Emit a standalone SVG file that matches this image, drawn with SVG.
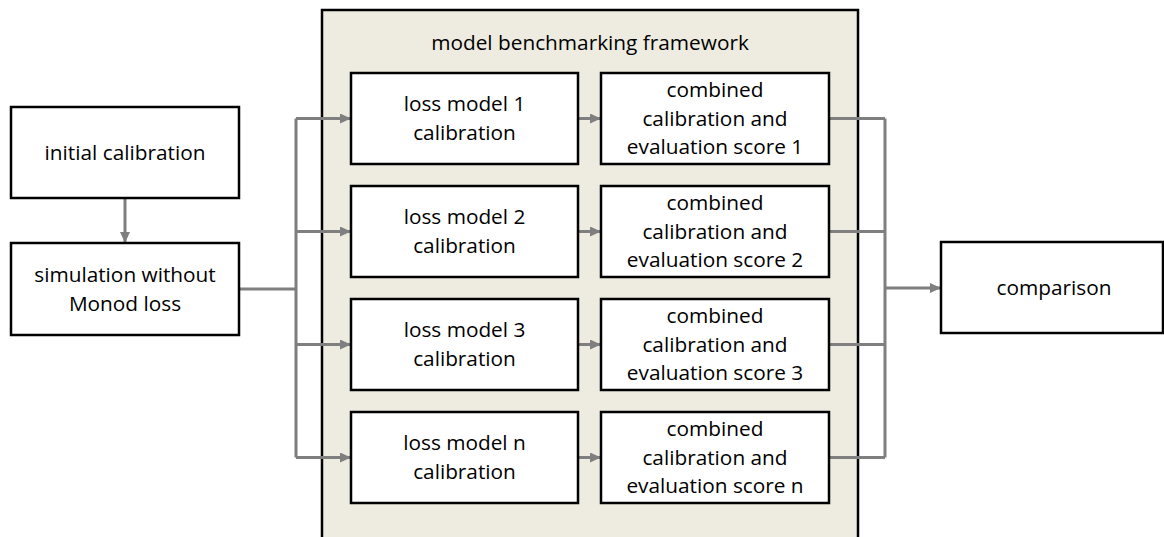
<svg xmlns="http://www.w3.org/2000/svg" width="1164" height="537" viewBox="0 0 1164 537">
  <style>
    .box { fill: #ffffff; stroke: #000000; stroke-width: 2.5; }
    .frame { fill: #EEECE1; stroke: #000000; stroke-width: 2.5; }
    .lbl { font-family: "Open Sans", "Liberation Sans", sans-serif; font-size: 20.8px; fill: #000000; text-anchor: middle; }
    .wire { fill: none; stroke: #7F7F7F; stroke-width: 3; }
    .arrow { fill: none; stroke: #7F7F7F; stroke-width: 3; marker-end: url(#head); }
  </style>
  <defs>
    <marker id="head" markerUnits="userSpaceOnUse" markerWidth="11" markerHeight="10" refX="11" refY="5" orient="auto">
      <path d="M0,0 L11,5 L0,10 Z" fill="#7F7F7F"/>
    </marker>
  </defs>

  <rect width="1164" height="537" fill="#ffffff"/>

  <!-- benchmarking framework container -->
  <g id="framework">
    <rect class="frame" x="322" y="10" width="536" height="540"/>
    <text class="lbl" x="590" y="50">model benchmarking framework</text>
  </g>

  <!-- connectors -->
  <g id="connectors">
    <line class="arrow" x1="125" y1="198" x2="125" y2="243"/>
    <polyline class="wire" points="239,289 296,289"/>
    <line class="wire" x1="296" y1="118.5" x2="296" y2="457.5"/>
    <line class="arrow" x1="296" y1="118.5" x2="351" y2="118.5"/>
    <line class="arrow" x1="296" y1="231.5" x2="351" y2="231.5"/>
    <line class="arrow" x1="296" y1="344.5" x2="351" y2="344.5"/>
    <line class="arrow" x1="296" y1="457.5" x2="351" y2="457.5"/>
    <line class="arrow" x1="578" y1="118.5" x2="601" y2="118.5"/>
    <line class="arrow" x1="578" y1="231.5" x2="601" y2="231.5"/>
    <line class="arrow" x1="578" y1="344.5" x2="601" y2="344.5"/>
    <line class="arrow" x1="578" y1="457.5" x2="601" y2="457.5"/>
    <line class="wire" x1="829" y1="118.5" x2="885" y2="118.5"/>
    <line class="wire" x1="829" y1="231.5" x2="885" y2="231.5"/>
    <line class="wire" x1="829" y1="344.5" x2="885" y2="344.5"/>
    <line class="wire" x1="829" y1="457.5" x2="885" y2="457.5"/>
    <line class="wire" x1="885" y1="118.5" x2="885" y2="457.5"/>
    <line class="arrow" x1="885" y1="288" x2="941" y2="288"/>
  </g>

  <g id="initial-calibration">
    <rect class="box" x="11" y="107" width="228" height="91"/>
    <text class="lbl" x="125" y="160">initial calibration</text>
  </g>

  <g id="simulation">
    <rect class="box" x="11" y="243" width="228" height="92"/>
    <text class="lbl" x="125" y="282">simulation without</text>
    <text class="lbl" x="125" y="311">Monod loss</text>
  </g>

  <g id="loss-model-1">
    <rect class="box" x="351" y="73" width="227" height="91"/>
    <text class="lbl" x="464.5" y="111">loss model 1</text>
    <text class="lbl" x="464.5" y="139.5">calibration</text>
  </g>
  <g id="loss-model-2">
    <rect class="box" x="351" y="186" width="227" height="91"/>
    <text class="lbl" x="464.5" y="224">loss model 2</text>
    <text class="lbl" x="464.5" y="252.5">calibration</text>
  </g>
  <g id="loss-model-3">
    <rect class="box" x="351" y="299" width="227" height="91"/>
    <text class="lbl" x="464.5" y="337">loss model 3</text>
    <text class="lbl" x="464.5" y="365.5">calibration</text>
  </g>
  <g id="loss-model-n">
    <rect class="box" x="351" y="412" width="227" height="91"/>
    <text class="lbl" x="464.5" y="450">loss model n</text>
    <text class="lbl" x="464.5" y="478.5">calibration</text>
  </g>

  <g id="score-1">
    <rect class="box" x="601" y="73" width="228" height="91"/>
    <text class="lbl" x="715" y="97">combined</text>
    <text class="lbl" x="715" y="126">calibration and</text>
    <text class="lbl" x="715" y="154">evaluation score 1</text>
  </g>
  <g id="score-2">
    <rect class="box" x="601" y="186" width="228" height="91"/>
    <text class="lbl" x="715" y="210">combined</text>
    <text class="lbl" x="715" y="239">calibration and</text>
    <text class="lbl" x="715" y="267">evaluation score 2</text>
  </g>
  <g id="score-3">
    <rect class="box" x="601" y="299" width="228" height="91"/>
    <text class="lbl" x="715" y="323">combined</text>
    <text class="lbl" x="715" y="352">calibration and</text>
    <text class="lbl" x="715" y="380">evaluation score 3</text>
  </g>
  <g id="score-n">
    <rect class="box" x="601" y="412" width="228" height="91"/>
    <text class="lbl" x="715" y="436">combined</text>
    <text class="lbl" x="715" y="465">calibration and</text>
    <text class="lbl" x="715" y="493">evaluation score n</text>
  </g>

  <g id="comparison">
    <rect class="box" x="941" y="242" width="222" height="91"/>
    <text class="lbl" x="1054" y="295">comparison</text>
  </g>
</svg>
